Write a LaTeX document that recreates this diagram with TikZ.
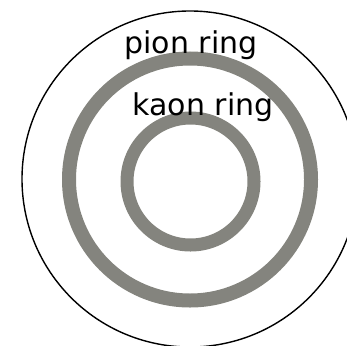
\documentclass[tikz,border=0pt]{standalone}
\usepackage{fontspec}
\setmainfont{DejaVu Sans}
\definecolor{ringgray}{RGB}{132,132,126}
\usetikzlibrary{positioning}

\begin{document}
\begin{tikzpicture}[x=1pt, y=-1pt,
    ring/.style={circle, draw=ringgray, inner sep=0pt, outer sep=0pt},
    rim/.style={circle, draw=black, line width=1.4pt, inner sep=0pt, outer sep=0pt},
    lbl/.style={anchor=base, inner sep=0pt, font=\fontsize{30}{35}\selectfont}
  ]
    \useasboundingbox (0,0) rectangle (347,345);

    \node[rim, minimum size=336pt] (outer) at (190,179) {};
    \node[ring, line width=14pt, minimum size=242pt] (pion) at (190,179.5) {};
    \node[ring, line width=13pt, minimum size=127pt] (kaon) at (190.5,181.5) {};

    % ring labels
    \node[lbl] (pionlbl) at (191,53) {pion ring};
    \node[lbl] (kaonlbl) at (203,115) {kaon ring};
\end{tikzpicture}
\end{document}
